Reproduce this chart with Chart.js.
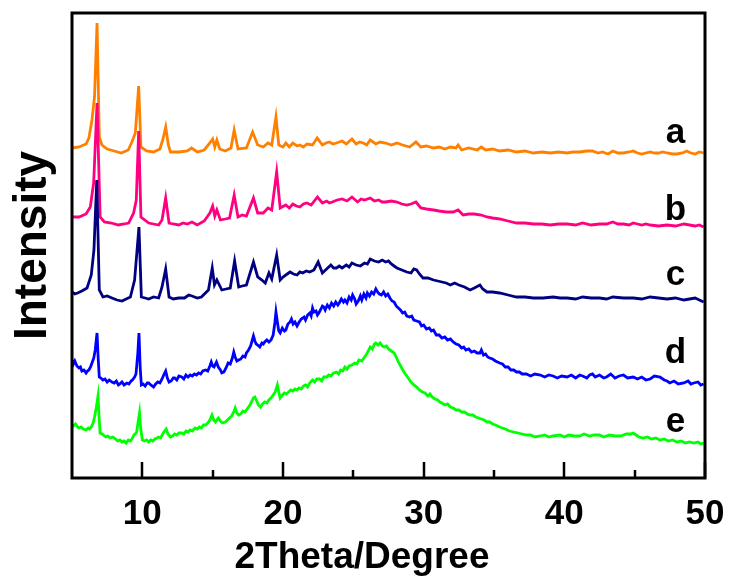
<!DOCTYPE html>
<html>
<head>
<meta charset="utf-8">
<script src="https://cdn.jsdelivr.net/npm/chart.js@4/dist/chart.umd.min.js"></script>
<style>
  html, body { margin: 0; padding: 0; background: #ffffff; }
  #wrap { width: 732px; height: 583px; }
</style>
</head>
<body>
<div id="wrap"><canvas id="xrd" width="732" height="583"></canvas></div>
<script>
// XRD patterns, [2theta (degree), intensity (a.u., curves offset vertically)]
const pattern_a = [
  [5.0,330],[5.5,331],[6.0,334],[6.2,340],[6.42,358],[6.6,381],[6.78,455],[6.94,341],[7.13,333],
  [7.5,329],[8.0,327],[8.5,325],[9.0,328],[9.26,336],[9.5,345],[9.74,392],[9.9,331],[10.3,327],
  [10.8,326],[11.25,329],[11.45,338],[11.66,351],[11.85,333],[12.0,326],[12.6,326],[13.2,327],
  [13.5,330],[13.9,326],[14.4,328],[14.8,335],[15.0,339],[15.15,331],[15.3,338],[15.5,329],
  [15.9,327],[16.3,330],[16.53,348],[16.8,329],[17.4,330],[17.84,346],[18.2,333],[18.6,331],
  [18.93,335],[19.2,333],[19.5,361],[19.7,333],[20.0,331],[20.2,335],[20.45,331],[20.7,335],
  [21.0,332],[21.2,333],[21.45,331],[21.7,334],[22.1,333],[22.43,340],[22.8,333],[23.05,335],
  [23.3,336],[23.55,334],[23.8,335],[24.2,337],[24.5,334],[24.9,339],[25.2,334],[25.45,336],
  [25.7,335],[25.95,333],[26.2,338],[26.6,334],[26.9,336],[27.3,335],[27.7,333],[28.1,335],
  [28.5,333],[29.0,331],[29.45,336],[29.8,331],[30.2,332],[30.7,330],[31.1,331],[31.5,329],
  [31.9,331],[32.3,330],[32.45,333],[32.7,328],[33.2,330],[33.8,328],[34.1,331],[34.4,328],
  [34.9,329],[35.4,327],[36.0,328],[36.6,326],[37.2,327],[37.8,325],[38.4,326],[39.0,325],
  [39.6,326],[40.2,325],[40.6,326],[41.1,326],[41.6,327],[42.0,327],[42.4,325],[42.7,326],
  [43.1,324],[43.45,327],[43.8,325],[44.2,325],[44.6,326],[44.9,327],[45.2,325],[45.5,324],
  [46.1,326],[46.4,325],[46.7,325],[47.0,326],[47.3,325],[47.7,324],[48.0,324],[48.4,325],
  [48.7,327],[49.0,325],[49.3,324],[49.6,326],[49.9,325]
];
const pattern_b = [
  [5.0,261],[5.5,261],[6.0,264],[6.3,271],[6.54,295],[6.78,375],[7.0,261],[7.3,256],[7.8,255],
  [8.3,253],[8.7,254],[9.03,255],[9.38,265],[9.57,278],[9.74,347],[9.9,261],[10.45,255],
  [10.8,254],[11.16,253],[11.4,258],[11.66,280],[11.9,255],[12.2,254],[12.58,253],[12.9,255],
  [13.2,254],[13.53,256],[13.9,253],[14.4,257],[14.8,265],[15.0,272],[15.15,262],[15.3,268],
  [15.55,258],[15.9,259],[16.2,260],[16.53,283],[16.8,261],[17.1,263],[17.4,262],[17.9,280],
  [18.2,265],[18.6,265],[18.93,270],[19.2,268],[19.55,306],[19.8,270],[20.2,273],[20.45,270],
  [20.7,274],[20.95,272],[21.2,271],[21.45,274],[21.7,275],[22.0,273],[22.45,281],[22.8,275],
  [23.1,277],[23.3,275],[23.5,276],[23.85,278],[24.2,279],[24.55,277],[24.9,281],[25.3,276],
  [25.55,279],[25.8,278],[26.2,280],[26.5,277],[26.8,278],[27.05,276],[27.3,276],[27.7,277],
  [28.1,276],[28.45,274],[28.8,273],[29.1,274],[29.45,276],[29.8,270],[30.2,269],[30.7,268],
  [31.1,267],[31.6,266],[32.1,266],[32.45,268],[32.8,263],[33.2,264],[33.6,264],[34.1,263],
  [34.5,261],[34.9,260],[35.4,259],[36.0,257],[36.6,255],[37.2,255],[37.8,254],[38.4,254],
  [39.0,253],[39.6,254],[40.2,254],[40.8,253],[41.3,255],[41.9,253],[42.5,254],[43.0,254],
  [43.45,256],[43.8,254],[44.2,254],[44.6,253],[44.9,255],[45.2,254],[45.5,253],[45.8,254],
  [46.1,253],[46.7,252],[47.3,253],[47.9,252],[48.5,254],[48.9,253],[49.3,252],[49.6,253],
  [49.9,251]
];
const pattern_c = [
  [5.0,186],[5.2,184],[5.4,185],[5.7,187],[6.07,190],[6.37,203],[6.56,228],[6.76,298],[6.94,188],
  [7.2,181],[7.5,182],[7.84,180],[8.2,178],[8.55,177],[8.85,179],[9.15,181],[9.45,198],
  [9.76,251],[9.93,181],[10.2,180],[10.45,179],[10.8,181],[11.16,180],[11.4,191],[11.66,209],
  [11.9,181],[12.2,179],[12.58,180],[13.0,180],[13.3,183],[13.53,182],[13.9,180],[14.2,181],
  [14.7,188],[14.97,210],[15.13,193],[15.3,198],[15.65,188],[15.95,189],[16.25,190],[16.56,217],
  [16.85,191],[17.1,192],[17.4,193],[17.9,216],[18.2,201],[18.5,198],[18.74,195],[19.0,205],
  [19.2,199],[19.55,223],[19.8,198],[20.0,201],[20.2,203],[20.5,206],[20.75,204],[21.0,203],
  [21.2,206],[21.4,205],[21.65,207],[21.9,206],[22.2,208],[22.5,216],[22.8,205],[23.1,209],
  [23.4,213],[23.6,210],[23.8,210],[24.0,212],[24.2,210],[24.5,213],[24.7,211],[24.9,215],
  [25.2,213],[25.5,212],[25.8,215],[26.0,214],[26.2,219],[26.5,217],[26.8,216],[27.05,218],
  [27.3,216],[27.5,217],[27.7,214],[27.9,212],[28.1,210],[28.45,208],[28.8,206],[29.1,205],
  [29.3,209],[29.5,208],[29.7,204],[29.95,200],[30.3,200],[30.7,198],[31.0,197],[31.3,196],
  [31.6,195],[31.9,193],[32.2,195],[32.5,193],[32.9,191],[33.3,188],[33.6,190],[34.0,193],
  [34.2,189],[34.5,186],[34.9,186],[35.4,185],[36.0,183],[36.6,181],[37.2,181],[37.8,180],
  [38.5,180],[39.2,181],[39.7,180],[40.2,180],[40.8,179],[41.3,181],[41.9,180],[42.5,180],
  [43.0,179],[43.45,181],[44.2,180],[44.9,180],[45.5,179],[46.1,181],[46.7,180],[47.3,179],
  [47.9,180],[48.5,178],[48.9,179],[49.3,180],[49.6,178],[49.9,176]
];
const pattern_d = [
  [5.0,118],[5.1,114],[5.2,117],[5.35,112],[5.5,110],[5.6,111],[5.7,107],[5.85,108],[6.0,105],
  [6.1,107],[6.2,108],[6.32,111],[6.42,115],[6.55,120],[6.65,128],[6.78,145],[6.86,120],[6.94,101],
  [7.05,100],[7.2,98],[7.35,99],[7.5,96],[7.65,98],[7.84,96],[8.0,95],[8.15,97],[8.3,93],[8.4,94],
  [8.55,96],[8.7,93],[8.9,95],[9.05,94],[9.2,97],[9.3,98],[9.45,101],[9.55,104],[9.68,125],
  [9.76,145],[9.85,110],[9.93,93],[10.05,94],[10.2,92],[10.35,95],[10.45,95],[10.6,93],[10.8,91],
  [10.95,94],[11.1,96],[11.25,95],[11.4,99],[11.55,104],[11.66,107],[11.78,100],[11.9,96],
  [12.05,97],[12.2,100],[12.3,100],[12.45,98],[12.6,102],[12.8,101],[12.95,99],[13.1,103],
  [13.25,101],[13.4,103],[13.55,102],[13.7,104],[13.85,103],[14.0,105],[14.15,104],[14.3,107],
  [14.5,108],[14.65,107],[14.8,112],[14.9,116],[15.0,112],[15.1,111],[15.2,114],[15.27,116],
  [15.4,111],[15.55,108],[15.65,105],[15.8,106],[15.95,110],[16.1,115],[16.25,114],[16.4,120],
  [16.5,126],[16.6,121],[16.72,117],[16.85,118],[17.0,119],[17.15,122],[17.3,121],[17.4,125],
  [17.55,128],[17.7,132],[17.82,138],[17.9,142],[18.0,137],[18.1,134],[18.2,133],[18.35,131],
  [18.5,135],[18.6,134],[18.7,136],[18.85,138],[19.0,136],[19.15,138],[19.3,143],[19.42,155],
  [19.5,166],[19.6,156],[19.7,147],[19.8,145],[19.95,150],[20.1,147],[20.2,148],[20.35,154],
  [20.5,156],[20.6,159],[20.72,154],[20.85,156],[21.0,152],[21.15,156],[21.3,159],[21.5,161],
  [21.6,158],[21.75,163],[21.9,165],[22.0,162],[22.1,170],[22.2,166],[22.35,167],[22.45,163],
  [22.55,165],[22.7,169],[22.8,172],[22.9,171],[23.0,168],[23.15,173],[23.3,170],[23.45,175],
  [23.6,172],[23.75,176],[23.9,173],[24.0,175],[24.15,179],[24.3,176],[24.4,178],[24.55,175],
  [24.7,181],[24.85,178],[24.95,183],[25.1,179],[25.2,174],[25.35,177],[25.5,182],[25.6,178],
  [25.75,184],[25.9,180],[26.0,185],[26.15,182],[26.3,186],[26.45,184],[26.6,189],[26.72,186],
  [26.85,184],[27.0,183],[27.15,186],[27.3,182],[27.45,184],[27.6,180],[27.75,177],[27.9,176],
  [28.05,172],[28.2,170],[28.35,168],[28.5,165],[28.65,166],[28.8,162],[29.0,161],[29.15,162],
  [29.3,158],[29.5,157],[29.7,156],[29.85,152],[30.0,153],[30.2,149],[30.4,150],[30.55,147],
  [30.7,148],[30.9,143],[31.1,143],[31.3,140],[31.5,141],[31.7,138],[31.9,139],[32.1,136],
  [32.3,134],[32.5,133],[32.7,130],[32.85,131],[33.0,128],[33.2,129],[33.4,126],[33.6,127],
  [33.8,125],[34.0,125],[34.1,128],[34.25,123],[34.4,124],[34.55,121],[34.7,120],[34.9,119],
  [35.1,117],[35.4,115],[35.6,114],[35.8,111],[36.0,111],[36.2,108],[36.4,108],[36.6,106],
  [36.8,106],[37.0,104],[37.3,104],[37.6,102],[37.9,104],[38.3,103],[38.6,101],[38.9,103],
  [39.2,102],[39.5,100],[39.8,102],[40.2,101],[40.5,103],[40.8,100],[41.1,103],[41.3,102],
  [41.6,100],[41.8,103],[42.0,104],[42.2,101],[42.5,103],[42.8,100],[43.0,101],[43.3,104],
  [43.6,100],[43.9,102],[44.2,103],[44.5,100],[44.9,101],[45.2,99],[45.5,101],[45.8,98],
  [46.1,99],[46.4,102],[46.8,101],[47.1,98],[47.3,97],[47.5,95],[47.8,97],[48.1,94],[48.5,95],
  [48.8,97],[49.0,94],[49.2,95],[49.5,96],[49.7,93],[49.9,94]
];
const pattern_e = [
  [5.0,53],[5.1,52],[5.25,54],[5.4,51],[5.5,50],[5.65,51],[5.8,49],[6.0,48],[6.15,50],[6.25,49],
  [6.37,51],[6.5,55],[6.6,61],[6.72,70],[6.85,82],[6.93,60],[7.0,45],[7.15,44],[7.3,42],[7.4,41],
  [7.55,42],[7.7,40],[7.9,41],[8.1,39],[8.25,37],[8.4,38],[8.55,36],[8.7,37],[8.85,35],[9.0,38],
  [9.15,37],[9.3,40],[9.4,43],[9.5,44],[9.6,46],[9.7,56],[9.8,65],[9.88,50],[10.0,38],[10.15,37],
  [10.3,38],[10.45,36],[10.6,38],[10.75,37],[10.9,39],[11.05,40],[11.16,41],[11.3,40],[11.45,44],
  [11.58,47],[11.7,49],[11.82,44],[12.0,41],[12.15,42],[12.3,44],[12.45,43],[12.6,45],[12.8,45],
  [12.95,44],[13.1,47],[13.25,46],[13.4,48],[13.55,47],[13.75,50],[13.9,49],[14.05,51],[14.2,50],
  [14.35,53],[14.5,53],[14.65,55],[14.8,58],[14.95,63],[15.08,58],[15.2,56],[15.3,58],[15.4,60],
  [15.55,57],[15.7,55],[15.9,56],[16.05,58],[16.2,60],[16.35,62],[16.5,66],[16.6,70],[16.72,65],
  [16.85,63],[17.0,64],[17.15,67],[17.3,66],[17.5,70],[17.65,73],[17.8,77],[17.9,80],[18.0,81],
  [18.1,78],[18.25,73],[18.4,71],[18.55,74],[18.7,76],[18.85,75],[19.0,78],[19.15,80],[19.3,83],
  [19.45,86],[19.6,93],[19.7,86],[19.8,80],[19.95,83],[20.1,85],[20.25,84],[20.4,86],[20.55,88],
  [20.7,87],[20.85,89],[21.0,88],[21.15,90],[21.3,89],[21.45,92],[21.6,93],[21.75,91],[21.9,95],
  [22.1,98],[22.25,96],[22.4,99],[22.6,99],[22.75,97],[22.9,101],[23.1,101],[23.25,103],
  [23.4,102],[23.6,105],[23.8,106],[23.95,104],[24.1,108],[24.25,107],[24.4,111],[24.55,109],
  [24.7,112],[24.9,113],[25.1,115],[25.25,114],[25.4,118],[25.6,117],[25.8,121],[25.95,124],
  [26.1,128],[26.2,131],[26.35,129],[26.5,134],[26.6,135],[26.75,133],[26.9,135],[27.05,132],
  [27.2,131],[27.35,132],[27.5,129],[27.7,127],[27.9,125],[28.05,121],[28.2,116],[28.4,111],
  [28.6,106],[28.8,102],[29.0,98],[29.1,96],[29.3,93],[29.5,91],[29.7,88],[29.9,86],[30.1,85],
  [30.3,82],[30.45,84],[30.6,81],[30.8,79],[31.0,78],[31.15,76],[31.3,75],[31.5,73],[31.7,74],
  [31.9,71],[32.1,70],[32.3,68],[32.5,68],[32.7,66],[32.9,66],[33.1,64],[33.3,63],[33.5,63],
  [33.7,61],[33.9,60],[34.1,59],[34.3,58],[34.5,56],[34.7,56],[34.9,54],[35.1,53],[35.4,51],
  [35.6,50],[35.8,49],[36.1,47],[36.4,46],[36.7,45],[37.0,44],[37.3,43],[37.6,43],[37.9,41],
  [38.3,42],[38.6,43],[38.9,41],[39.2,42],[39.7,43],[40.0,41],[40.3,43],[40.7,42],[41.1,42],
  [41.4,44],[41.8,42],[42.1,43],[42.5,43],[42.8,41],[43.2,43],[43.6,42],[44.0,42],[44.4,44],
  [44.7,44],[44.9,45],[45.1,43],[45.3,41],[45.6,40],[45.9,41],[46.2,39],[46.5,40],[46.8,38],
  [47.1,39],[47.4,37],[47.7,38],[48.0,36],[48.3,37],[48.6,35],[48.9,36],[49.2,35],[49.5,36],
  [49.7,34],[49.9,35]
];

const sampleNames = ['a', 'b', 'c', 'd', 'e'];
const xTickLabels = [10, 20, 30, 40, 50];
const xMinorTicks = [15, 25, 35, 45];

const patterns = [pattern_a, pattern_b, pattern_c, pattern_d, pattern_e];
const lineColors = ['#FF8000', '#FF0080', '#000080', '#0000FF', '#00FF00'];
// where the sample letters sit (2theta, intensity of the text baseline)
const nameAnchorX = 47.9;
const nameAnchorY = [335, 258, 193, 115, 46];

const FONT = '"Liberation Sans", Arial, Helvetica, sans-serif';

const frameAndLabels = {
  id: 'frameAndLabels',
  afterDraw(chart) {
    const { ctx, chartArea, scales } = chart;
    const { left, right, top, bottom } = chartArea;
    const x = scales.x, y = scales.y;
    ctx.save();
    ctx.strokeStyle = '#000';
    ctx.lineWidth = 3;
    ctx.strokeRect(left, top, right - left, bottom - top);
    ctx.lineWidth = 2.5;
    ctx.beginPath();
    xTickLabels.forEach(v => {
      const px = Math.round(x.getPixelForValue(v));
      ctx.moveTo(px, bottom); ctx.lineTo(px, bottom - 16);
    });
    xMinorTicks.forEach(v => {
      const px = Math.round(x.getPixelForValue(v));
      ctx.moveTo(px, bottom); ctx.lineTo(px, bottom - 8);
    });
    ctx.stroke();
    ctx.fillStyle = '#000';
    ctx.font = 'bold 35px ' + FONT;
    ctx.textAlign = 'center';
    ctx.textBaseline = 'alphabetic';
    sampleNames.forEach((n, i) => {
      ctx.fillText(n, x.getPixelForValue(nameAnchorX), y.getPixelForValue(nameAnchorY[i]));
    });
    ctx.restore();
  }
};

new Chart(document.getElementById('xrd'), {
  type: 'line',
  data: {
    datasets: patterns.map((p, i) => ({
      label: sampleNames[i],
      data: p.map(([t, v]) => ({ x: t, y: v })),
      borderColor: lineColors[i],
      backgroundColor: lineColors[i],
      borderWidth: 2.8,
      pointRadius: 0,
      tension: 0,
      fill: false,
      order: patterns.length - i
    }))
  },
  options: {
    responsive: false,
    devicePixelRatio: 1,
    animation: false,
    layout: { padding: { top: 13, right: 8, left: 0, bottom: 0 } },
    plugins: {
      legend: { display: false },
      tooltip: { enabled: false },
      title: {
        display: true,
        position: 'bottom',
        text: '2Theta/Degree',
        color: '#000',
        font: { family: FONT, size: 37, weight: 'bold' },
        padding: { top: 1.6, bottom: 3 }
      }
    },
    scales: {
      x: {
        type: 'linear',
        min: 5,
        max: 50,
        grid: { display: false },
        border: { display: false },
        afterBuildTicks: s => { s.ticks = xTickLabels.map(v => ({ value: v })); },
        afterFit: s => { s.height = 56; s.paddingLeft = 0; s.paddingRight = 0; },
        ticks: {
          color: '#000',
          padding: 7,
          maxRotation: 0,
          font: { family: FONT, size: 35, weight: 'bold' }
        }
      },
      y: {
        type: 'linear',
        min: 0,
        max: 465,
        grid: { display: false },
        border: { display: false },
        ticks: { display: false },
        afterFit: s => { s.width = 72; s.paddingTop = 0; s.paddingBottom = 0; },
        title: {
          display: true,
          text: 'Intensity',
          color: '#000',
          font: { family: FONT, size: 46, weight: 'bold' },
          padding: { top: 6, bottom: 0 }
        }
      },
      yRight: {
        type: 'linear',
        position: 'right',
        min: 0,
        max: 465,
        grid: { display: false },
        border: { display: false },
        ticks: { display: false },
        afterFit: s => { s.width = 19; s.paddingTop = 0; s.paddingBottom = 0; }
      }
    }
  },
  plugins: [frameAndLabels]
});
</script>
</body>
</html>
